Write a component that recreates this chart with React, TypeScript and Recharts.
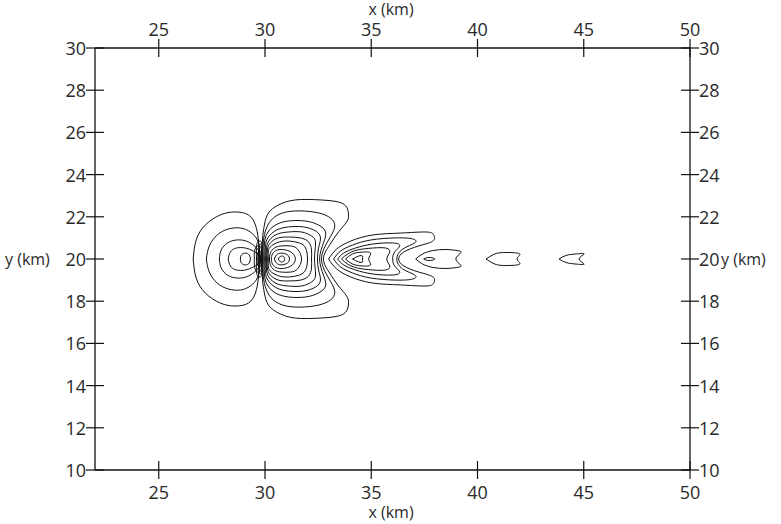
import { Scatter, ScatterChart, XAxis, YAxis } from 'recharts'

const X_TICKS = [25, 30, 35, 40, 45, 50]
const Y_TICKS = [10, 12, 14, 16, 18, 20, 22, 24, 26, 28, 30]

// contour lines, upper half only (x km, y km), the field is symmetric about y = 20
// left lobe
const L1 = [[26.62, 20], [26.76, 20.9], [27.19, 21.61], [27.9, 22.09], [28.6, 22.23], [29.22, 22.09], [29.55, 21.61], [29.69, 20.9], [29.74, 20]]
const L2 = [[27.24, 20], [27.38, 20.62], [27.75, 21.14], [28.27, 21.42], [28.84, 21.47], [29.31, 21.28], [29.64, 20.9], [29.74, 20.43], [29.78, 20]]
const L3 = [[27.85, 20], [27.94, 20.43], [28.23, 20.76], [28.65, 20.9], [29.12, 20.85], [29.5, 20.62], [29.74, 20.33], [29.78, 20]]
const L4 = [[28.27, 20], [28.37, 20.33], [28.65, 20.52], [29.08, 20.52], [29.45, 20.38], [29.74, 20.19], [29.78, 20]]
const L5 = [[28.84, 20], [28.89, 20.19], [29.08, 20.28], [29.26, 20.19], [29.31, 20]]
const L6 = [[29.5, 20], [29.5, 20.33], [29.59, 20.57], [29.74, 20.62], [29.83, 20.43], [29.83, 20]]
const L7 = [[29.64, 20], [29.64, 20.24], [29.74, 20.38], [29.83, 20.28], [29.88, 20]]
const L8 = [[29.6, 20], [29.6, 20.6], [29.66, 20.8], [29.76, 20.85], [29.85, 20.7], [29.86, 20]]
const L9 = [[29.7, 20], [29.7, 20.5], [29.76, 20.7], [29.84, 20.6], [29.86, 20]]

// middle lobe
const M1 = [[29.88, 20], [29.88, 20.9], [29.97, 21.61], [30.16, 22.18], [30.63, 22.56], [31.43, 22.8], [32.61, 22.8], [33.46, 22.7], [33.84, 22.46], [33.93, 22.09], [33.84, 21.75], [33.46, 21.28], [33.04, 20.66], [32.75, 20]]
const M2 = [[29.92, 20], [29.92, 20.81], [30.07, 21.47], [30.39, 21.94], [31.01, 22.23], [31.91, 22.27], [32.71, 22.13], [33.18, 21.85], [33.27, 21.47], [32.99, 20.9], [32.66, 20]]
const M3 = [[29.97, 20], [29.97, 20.71], [30.11, 21.23], [30.49, 21.61], [31.1, 21.8], [31.91, 21.8], [32.52, 21.61], [32.85, 21.28], [32.75, 20.76], [32.57, 20]]
const M4 = [[30.02, 20], [30.02, 20.62], [30.16, 21.04], [30.54, 21.37], [31.1, 21.52], [31.81, 21.52], [32.38, 21.33], [32.61, 21.0], [32.52, 20.52], [32.47, 20]]
const M5 = [[30.07, 20], [30.07, 20.52], [30.21, 20.9], [30.58, 21.18], [31.1, 21.28], [31.72, 21.28], [32.19, 21.09], [32.38, 20.76], [32.33, 20]]
const M6 = [[30.11, 20], [30.11, 20.43], [30.25, 20.76], [30.63, 21.0], [31.15, 21.04], [31.67, 21.0], [32.05, 20.81], [32.19, 20.43], [32.19, 20]]
const M7 = [[30.16, 20], [30.16, 20.38], [30.3, 20.62], [30.68, 20.81], [31.15, 20.85], [31.62, 20.76], [31.91, 20.52], [32.0, 20]]
const M8 = [[30.21, 20], [30.25, 20.28], [30.44, 20.52], [30.77, 20.62], [31.2, 20.62], [31.53, 20.47], [31.72, 20]]
const M9 = [[30.3, 20], [30.35, 20.24], [30.58, 20.43], [30.96, 20.43], [31.29, 20.28], [31.43, 20]]
const M10 = [[30.44, 20], [30.54, 20.19], [30.77, 20.28], [31.06, 20.19], [31.15, 20]]
const M11 = [[30.63, 20], [30.68, 20.09], [30.82, 20.14], [30.92, 20.05], [30.92, 20]]

// right lobe
const R1 = [[32.99, 20], [33.37, 20.47], [34.03, 20.85], [35.07, 21.14], [36.39, 21.23], [37.57, 21.28], [37.94, 21.14], [37.9, 20.85], [37.24, 20.62], [36.53, 20.33], [36.29, 20]]
const R2 = [[33.23, 20], [33.56, 20.38], [34.12, 20.66], [34.97, 20.9], [36.15, 21.0], [36.95, 20.95], [37.05, 20.76], [36.48, 20.47], [36.2, 20]]
const R3 = [[33.42, 20], [33.7, 20.28], [34.26, 20.52], [35.07, 20.71], [36.01, 20.76], [36.34, 20.62], [36.1, 20.33], [36.01, 20]]
const R4 = [[33.6, 20], [33.89, 20.24], [34.36, 20.43], [35.07, 20.52], [35.68, 20.52], [35.87, 20.33], [35.73, 20]]
const R5 = [[33.79, 20], [34.12, 20.24], [34.59, 20.33], [34.97, 20.28], [34.88, 20]]
const R6 = [[34.12, 20], [34.41, 20.14], [34.59, 20.14], [34.59, 20]]

// small trailing lobes
const Q1 = [[37.09, 20], [37.42, 20.24], [37.9, 20.4], [38.51, 20.45], [39.03, 20.4], [39.22, 20.3], [38.98, 20]]
const Q2 = [[37.47, 20], [37.66, 20.07], [37.9, 20.05], [37.99, 20]]
const Q3 = [[40.4, 20], [40.73, 20.2], [41.1, 20.3], [41.67, 20.3], [42.0, 20.22], [41.86, 20]]
const Q4 = [[43.84, 20], [44.17, 20.17], [44.64, 20.24], [45.02, 20.24], [44.78, 20]]

const CONTOURS = [L1, L2, L3, L4, L5, L6, L7, L8, L9, M1, M2, M3, M4, M5, M6, M7, M8, M9, M10, M11, R1, R2, R3, R4, R5, R6, Q1, Q2, Q3, Q4]

// close a half contour by reflecting it about y = 20
const closeLoop = (half: number[][]) =>
  half
    .concat(half.slice(0, -1).reverse().map(([x, y]) => [x, 40 - y]))
    .map(([x, y]) => ({ x, y }))

const FONT = '"Open Sans", sans-serif'
const INK = '#111'
const TEXT = '#2a2a2a'

function XTick(props: any) {
  const { x, y, payload, side } = props
  return (
    <g>
      <line x1={x} x2={x} y1={y - 9} y2={y + 9} stroke={INK} strokeWidth={1.2} />
      <text x={x} y={side === 'bottom' ? y + 22 : y - 19} textAnchor="middle" dominantBaseline="central" fontFamily={FONT} fontSize={18} fill={TEXT}>
        {payload.value}
      </text>
    </g>
  )
}

function YTick(props: any) {
  const { x, y, payload, side } = props
  return (
    <g>
      <line x1={x - 9} x2={x + 9} y1={y} y2={y} stroke={INK} strokeWidth={1.2} />
      <text x={side === 'left' ? x - 9 : x + 9} y={y} textAnchor={side === 'left' ? 'end' : 'start'} dominantBaseline="central" fontFamily={FONT} fontSize={18} fill={TEXT}>
        {payload.value}
      </text>
    </g>
  )
}

const titleStyle = { position: 'absolute' as const, fontFamily: FONT, fontSize: 16, color: TEXT, lineHeight: '19px', whiteSpace: 'nowrap' as const }

export default function App() {
  return (
    <div style={{ position: 'absolute', left: 0, top: 0, width: 781, height: 524, background: '#fff' }}>
      <ScatterChart width={781} height={524} margin={{ top: 47, right: 90, bottom: 53, left: 94 }}>
        <XAxis xAxisId="b" type="number" dataKey="x" orientation="bottom" domain={[22, 50]} ticks={X_TICKS} height={1} tickSize={0} tickMargin={0} tickLine={false}
          axisLine={{ stroke: INK, strokeWidth: 1.3 }} allowDataOverflow tick={(p: any) => <XTick {...p} side="bottom" />} />
        <XAxis xAxisId="t" type="number" dataKey="x" orientation="top" domain={[22, 50]} ticks={X_TICKS} height={1} tickSize={0} tickMargin={0} tickLine={false}
          axisLine={{ stroke: INK, strokeWidth: 1.3 }} allowDataOverflow tick={(p: any) => <XTick {...p} side="top" />} />
        <YAxis yAxisId="l" type="number" dataKey="y" orientation="left" domain={[10, 30]} ticks={Y_TICKS} width={1} tickSize={0} tickMargin={0} tickLine={false}
          axisLine={{ stroke: INK, strokeWidth: 1.3 }} allowDataOverflow tick={(p: any) => <YTick {...p} side="left" />} />
        <YAxis yAxisId="r" type="number" dataKey="y" orientation="right" domain={[10, 30]} ticks={Y_TICKS} width={1} tickSize={0} tickMargin={0} tickLine={false}
          axisLine={{ stroke: INK, strokeWidth: 1.3 }} allowDataOverflow tick={(p: any) => <YTick {...p} side="right" />} />
        {CONTOURS.map((c, i) => (
          <Scatter
            key={i}
            xAxisId="b"
            yAxisId="l"
            data={closeLoop(c)}
            line={{ stroke: INK, strokeWidth: 1 }}
            lineType="joint"
            lineJointType="natural"
            shape={() => <g />}
            legendType="none"
            isAnimationActive={false}
          />
        ))}
      </ScatterChart>
      <div style={{ ...titleStyle, left: 391, top: 0, transform: 'translateX(-50%)' }}>x (km)</div>
      <div style={{ ...titleStyle, left: 391, top: 503, transform: 'translateX(-50%)' }}>x (km)</div>
      <div style={{ ...titleStyle, left: 5, top: 250 }}>y (km)</div>
      <div style={{ ...titleStyle, left: 721, top: 250 }}>y (km)</div>
    </div>
  )
}
